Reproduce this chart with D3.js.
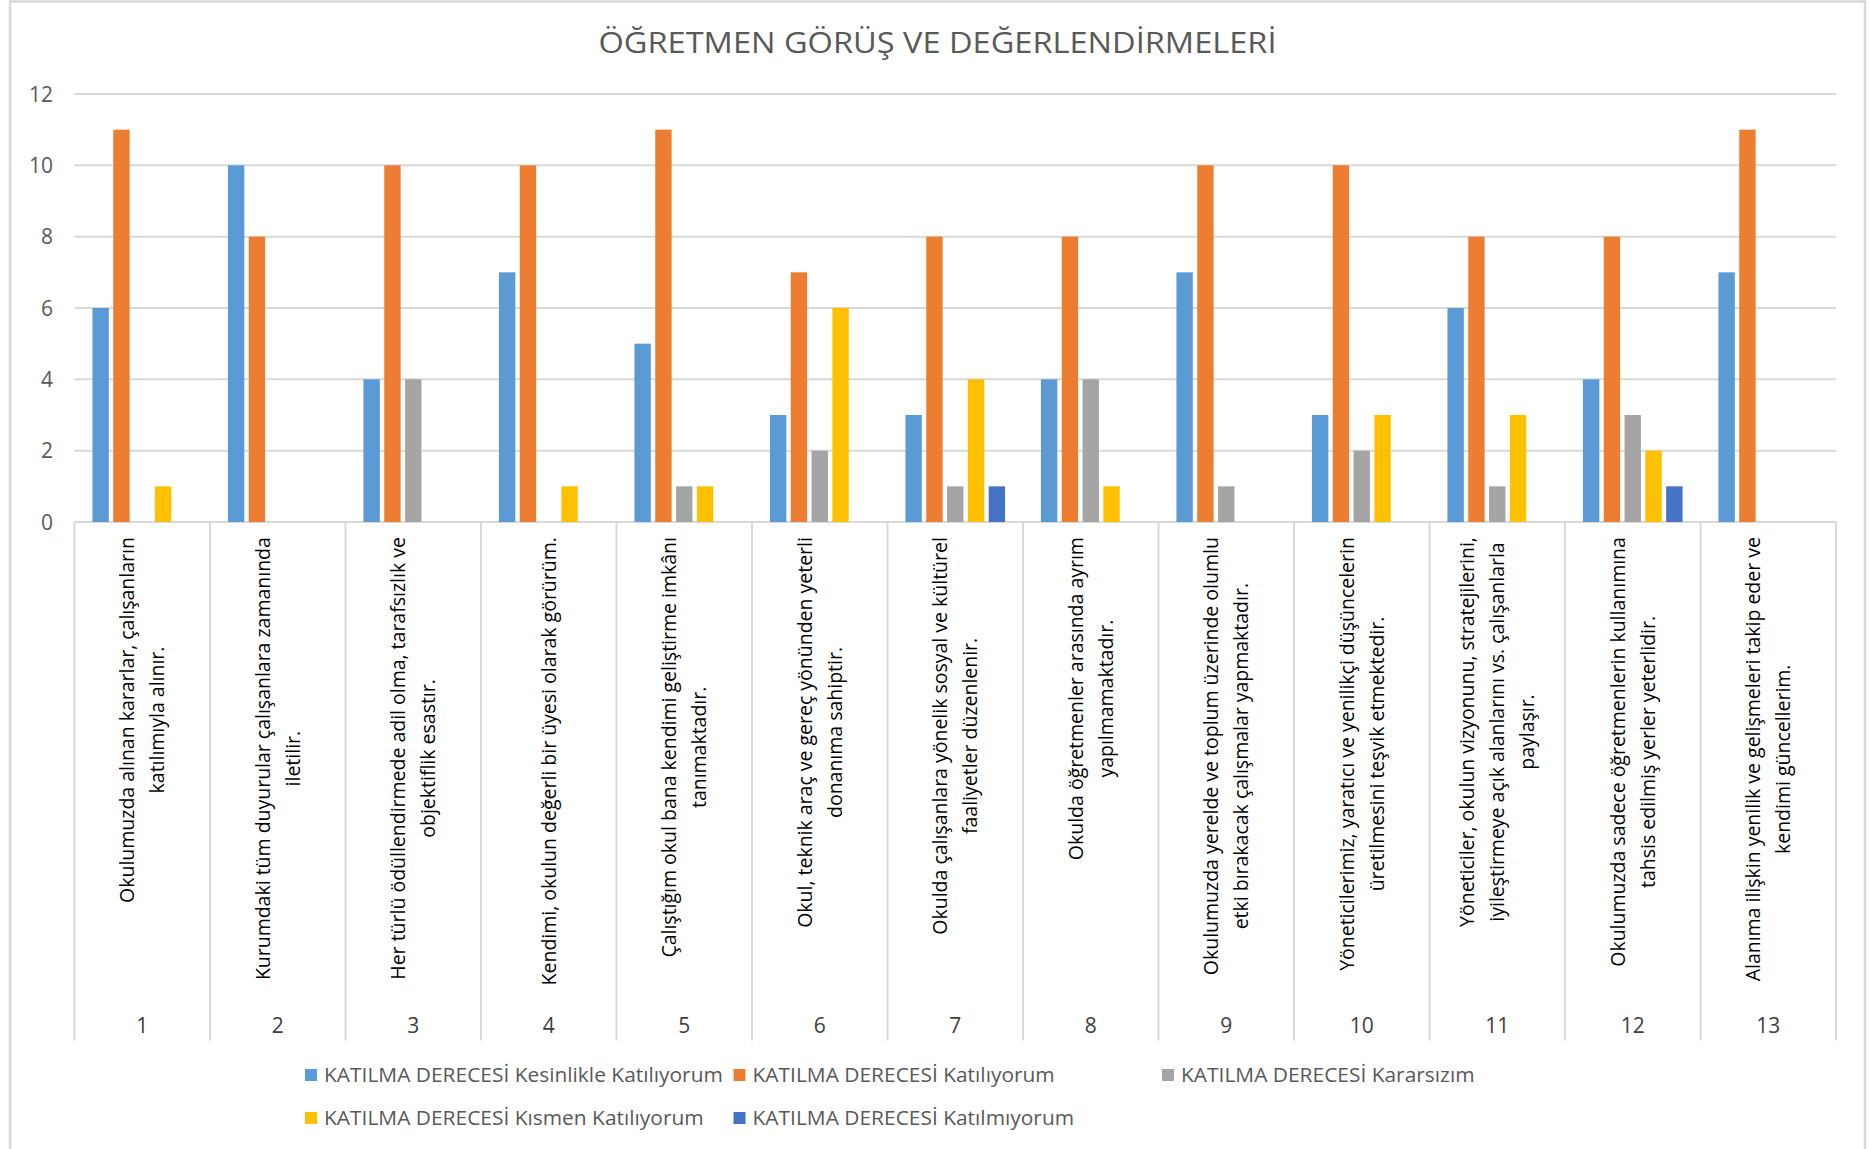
<!DOCTYPE html>
<html><head><meta charset="utf-8">
<script src="https://cdn.jsdelivr.net/npm/d3@7"></script>
<style>body{margin:0;background:#fff;} svg{display:block;}</style>
</head><body>
<svg id="c" width="1869" height="1149"></svg>
<script>
const title = "ÖĞRETMEN GÖRÜŞ VE DEĞERLENDİRMELERİ";
const categories = ["1","2","3","4","5","6","7","8","9","10","11","12","13"];
const categoryLabels = [
  ["Okulumuzda alınan kararlar, çalışanların", "katılımıyla alınır."],
  ["Kurumdaki tüm duyurular çalışanlara zamanında", "iletilir."],
  ["Her türlü ödüllendirmede adil olma, tarafsızlık ve", "objektiflik esastır."],
  ["Kendimi, okulun değerli bir üyesi olarak görürüm."],
  ["Çalıştığım okul bana kendimi geliştirme imkânı", "tanımaktadır."],
  ["Okul, teknik araç ve gereç yönünden yeterli", "donanıma sahiptir."],
  ["Okulda çalışanlara yönelik sosyal ve kültürel", "faaliyetler düzenlenir."],
  ["Okulda öğretmenler arasında ayrım", "yapılmamaktadır."],
  ["Okulumuzda yerelde ve toplum üzerinde olumlu", "etki bırakacak çalışmalar yapmaktadır."],
  ["Yöneticilerimiz, yaratıcı ve yenilikçi düşüncelerin", "üretilmesini teşvik etmektedir."],
  ["Yöneticiler, okulun vizyonunu, stratejilerini,", "iyileştirmeye açık alanlarını vs. çalışanlarla", "paylaşır."],
  ["Okulumuzda sadece öğretmenlerin kullanımına", "tahsis edilmiş yerler yeterlidir."],
  ["Alanıma ilişkin yenilik ve gelişmeleri takip eder ve", "kendimi güncellerim."]
];
const seriesNames = [
  "KATILMA DERECESİ Kesinlikle Katılıyorum",
  "KATILMA DERECESİ Katılıyorum",
  "KATILMA DERECESİ Kararsızım",
  "KATILMA DERECESİ Kısmen Katılıyorum",
  "KATILMA DERECESİ Katılmıyorum"
];
const kesinlikleKatiliyorum = [6,10,4,7,5,3,3,4,7,3,6,4,7];
const katiliyorum           = [11,8,10,10,11,7,8,8,10,10,8,8,11];
const kararsizim            = [0,0,4,0,1,2,1,4,1,2,1,3,0];
const kismenKatiliyorum     = [1,0,0,1,1,6,4,1,0,3,3,2,0];
const katilmiyorum          = [0,0,0,0,0,0,1,0,0,0,0,1,0];
const yTicks = [0,2,4,6,8,10,12];
const seriesColors = ["#5B9BD5","#ED7D31","#A5A5A5","#FFC000","#4472C4"];

const seriesValues = [kesinlikleKatiliyorum, katiliyorum, kararsizim, kismenKatiliyorum, katilmiyorum];

const svg = d3.select("#c");
const FONT = "'Open Sans', 'Noto Sans', sans-serif";
const GRID = "#D9D9D9";

// frame
svg.append("rect").attr("x",10).attr("y",1.5).attr("width",1855).attr("height",1170)
  .attr("fill","#fff").attr("stroke",GRID).attr("stroke-width",2.5);

const plotL = 74.5, plotR = 1836, yTop = 94, yZero = 522;
const x0 = d3.scaleBand().domain(categories).range([plotL, plotR]).padding(0);
const x1 = d3.scaleBand().domain(d3.range(seriesNames.length)).range([0, x0.bandwidth()])
  .paddingInner(0.2126).paddingOuter(0.862);
const y = d3.scaleLinear().domain([0,12]).range([yZero, yTop]);

// gridlines
svg.append("g").selectAll("line").data(yTicks).join("line")
  .attr("x1",plotL).attr("x2",plotR)
  .attr("y1",d=>y(d)).attr("y2",d=>y(d))
  .attr("stroke",GRID).attr("stroke-width",2);

// y tick labels
svg.append("g").selectAll("text").data(yTicks).join("text")
  .attr("x",53).attr("y",d=>y(d)).attr("dy","0.36em")
  .attr("text-anchor","end").attr("font-family",FONT).attr("font-size",21)
  .attr("fill","#595959").text(d=>d);

// category dividers
const bounds = categories.map(c=>x0(c)).concat([plotR]);
svg.append("g").selectAll("line").data(bounds).join("line")
  .attr("x1",d=>d).attr("x2",d=>d).attr("y1",yZero).attr("y2",1040.5)
  .attr("stroke",GRID).attr("stroke-width",2);

// bars
const barData = [];
categories.forEach((c,ci)=>{
  seriesValues.forEach((arr,si)=>{
    if (arr[ci] > 0) barData.push({c, si, v: arr[ci]});
  });
});
svg.append("g").selectAll("rect").data(barData).join("rect")
  .attr("x",d=>x0(d.c)+x1(d.si)).attr("width",x1.bandwidth())
  .attr("y",d=>y(d.v)).attr("height",d=>yZero-y(d.v))
  .attr("fill",d=>seriesColors[d.si]);

// category numbers
svg.append("g").selectAll("text").data(categories).join("text")
  .attr("x",d=>x0(d)+x0.bandwidth()/2).attr("y",1033)
  .attr("text-anchor","middle").attr("font-family",FONT).attr("font-size",21)
  .attr("fill","#404040").text(d=>d);

// category labels (rotated)
const LBL_FS = 20, LINE_GAP = 30, LBL_TOP = 537;
const probe = svg.append("text").attr("font-family",FONT).attr("font-size",LBL_FS).text(categoryLabels[0][0]);
const kLbl = 366 / probe.node().getComputedTextLength();
probe.remove();
const lblG = svg.append("g");
categories.forEach((c,ci)=>{
  const lines = categoryLabels[ci];
  const cx = x0(c) + x0.bandwidth()/2;
  const tmp = lines.map(t=>{
    const n = lblG.append("text").attr("font-family",FONT).attr("font-size",LBL_FS).text(t);
    const w = n.node().getComputedTextLength(); n.remove(); return w;
  });
  const L = d3.max(tmp) * kLbl;
  const cy = LBL_TOP + L/2;
  lines.forEach((t,li)=>{
    const lx = cx + (li - (lines.length-1)/2) * LINE_GAP;
    lblG.append("text")
      .attr("transform",`translate(${lx},${cy}) rotate(-90) scale(${kLbl},1)`)
      .attr("text-anchor","middle").attr("dy","0.35em")
      .attr("font-family",FONT).attr("font-size",LBL_FS).attr("fill","#000")
      .text(t);
  });
});

// title
const tt = svg.append("text").attr("font-family",FONT).attr("font-size",30)
  .attr("fill","#595959").attr("text-anchor","middle").text(title);
const kT = 678 / tt.node().getComputedTextLength();
tt.attr("transform",`translate(937.5,53) scale(${kT},1)`);

// legend
const LEG_FS = 19.5;
const lp = svg.append("text").attr("font-family",FONT).attr("font-size",LEG_FS).text(seriesNames[0]);
const kL = 399 / lp.node().getComputedTextLength();
lp.remove();
const leg = svg.append("g").selectAll("g").data(seriesNames).join("g")
  .attr("transform",(d,i)=>`translate(${305 + (i%3)*428.5},${1075 + Math.floor(i/3)*43})`);
leg.append("rect").attr("x",0).attr("y",-6).attr("width",12).attr("height",12)
  .attr("fill",(d,i)=>seriesColors[i]);
leg.append("text").attr("transform",`translate(19,0) scale(${kL},1)`)
  .attr("dy","0.36em").attr("font-family",FONT).attr("font-size",LEG_FS)
  .attr("fill","#595959").text(d=>d);
</script>
</body></html>
